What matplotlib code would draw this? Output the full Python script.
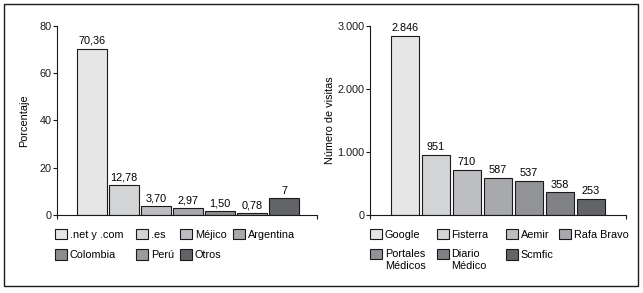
import matplotlib
matplotlib.use("Agg")
import matplotlib.pyplot as plt
from matplotlib.patches import Rectangle, Patch
from matplotlib.legend_handler import HandlerPatch

plt.rcParams['font.family'] = ['Liberation Sans', 'DejaVu Sans']
plt.rcParams['font.size'] = 7.8

# left panel: dominios
dominios = ['.net y .com', '.es', 'Méjico', 'Argentina', 'Colombia', 'Perú', 'Otros']
porcentaje = [70.36, 12.78, 3.70, 2.97, 1.50, 0.78, 7]
porcentaje_txt = ['70,36', '12,78', '3,70', '2,97', '1,50', '0,78', '7']
porc_ticks = [0, 20, 40, 60, 80]

# right panel: sitios de procedencia
sitios = ['Google', 'Fisterra', 'Aemir', 'Rafa Bravo', 'Portales\nMédicos', 'Diario\nMédico', 'Scmfic']
visitas = [2846, 951, 710, 587, 537, 358, 253]
visitas_txt = ['2.846', '951', '710', '587', '537', '358', '253']
visitas_ticks = [0, 1000, 2000, 3000]
visitas_ticklabels = ['0', '1.000', '2.000', '3.000']

grises = ['#e6e6e6', '#d3d4d6', '#bdbec1', '#a8a9ac', '#8c8d90', '#9a9b9e', '#636467']
grises2 = ['#e6e6e6', '#d3d4d6', '#bdbec1', '#a8a9ac', '#929396', '#808184', '#636467']

W, H = 643, 293
fig = plt.figure(figsize=(W / 100, H / 100), dpi=100)

# outer frame
fig.patches.append(Rectangle((4 / W, 1 - 286 / H), 634 / W, 282 / H, transform=fig.transFigure,
                             fill=False, edgecolor='#1a1a1a', linewidth=1.0))


def panel(rect, vals, txts, cols, ticks, ticklabels, ylabel, ymax, width, xlim, labx):
    ax = fig.add_axes(rect)
    x = list(range(len(vals)))
    bars = ax.bar(x, vals, width=width, color=cols, edgecolor='#1a1a1a', linewidth=0.8)
    ax.bar_label(bars, labels=txts, padding=2)
    ax.set_ylim(0, ymax)
    ax.set_xlim(*xlim)
    ax.set_yticks(ticks)
    ax.set_yticklabels(ticklabels)
    ax.set_xticks(xlim)
    ax.set_xticklabels(['', ''])
    ax.tick_params(axis='both', direction='out', length=3, width=0.8, pad=1, colors='#1a1a1a')
    for s in ['top', 'right']:
        ax.spines[s].set_visible(False)
    for s in ['left', 'bottom']:
        ax.spines[s].set_linewidth(0.8)
        ax.spines[s].set_color('#1a1a1a')
    ax.set_ylabel(ylabel)
    ax.yaxis.set_label_coords(labx, 0.5)
    ax.patch.set_alpha(0)
    return ax


ax1 = panel([57 / W, 1 - 215 / H, 260 / W, 189 / H], porcentaje, porcentaje_txt, grises,
            porc_ticks, [str(t) for t in porc_ticks], 'Porcentaje', 80, 0.94, (-1.1, 7.03), -0.108)
ax2 = panel([370 / W, 1 - 215 / H, 256 / W, 189 / H], visitas, visitas_txt, grises2,
            visitas_ticks, visitas_ticklabels, 'Número de visitas', 3000, 0.9, (-1.13, 7.13), -0.137)


class TopHandler(HandlerPatch):
    # square aligned with the first line of a two-line label
    def create_artists(self, legend, orig_handle, xdescent, ydescent, width, height, fontsize, trans):
        p = Rectangle((-xdescent, -ydescent + 0.6 * fontsize), width, height)
        self.update_prop(p, orig_handle, legend)
        p.set_transform(trans)
        return [p]


# one legend per column, two rows
for names, cols, xs in [(dominios, grises, [55, 136, 180, 233]),
                        (sitios, grises2, [370, 437, 506, 559])]:
    for c, xpx in enumerate(xs):
        idx = [i for i in (c, c + 4) if i < len(names)]
        handles = [Patch(facecolor=cols[i], edgecolor='#1a1a1a', linewidth=0.8) for i in idx]
        labels = [names[i] for i in idx]
        hmap = {h: TopHandler() for h, l in zip(handles, labels) if '\n' in l}
        fig.legend(handles, labels, loc='upper left', bbox_to_anchor=(xpx / W, 1 - 229 / H),
                   ncol=1, frameon=False, borderpad=0, borderaxespad=0, handlelength=1.15,
                   handleheight=1.05, handletextpad=0.2, labelspacing=0.9, handler_map=hmap)

fig.savefig('out.png', dpi=100)
